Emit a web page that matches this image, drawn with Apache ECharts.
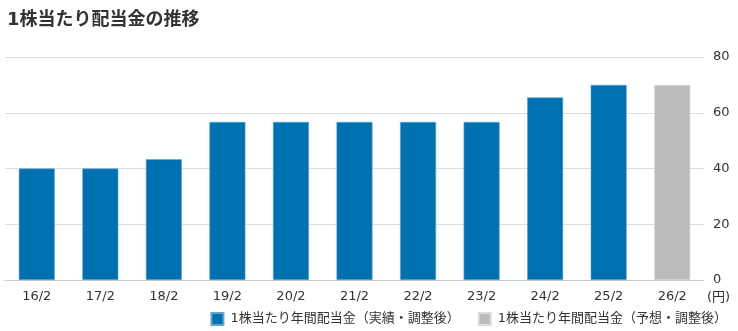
<!DOCTYPE html>
<html><head><meta charset="utf-8">
<script src="https://cdn.jsdelivr.net/npm/echarts@6/dist/echarts.min.js"></script>
<style>html,body{margin:0;padding:0;background:#fff}#c{width:738px;height:331px}</style>
</head><body><div id="c"></div>
<script>
const categories = ['16/2','17/2','18/2','19/2','20/2','21/2','22/2','23/2','24/2','25/2','26/2'];
const actualValues = [40, 40, 43.3, 56.7, 56.7, 56.7, 56.7, 56.7, 65.5, 70, '-'];
const forecastValues = ['-', '-', '-', '-', '-', '-', '-', '-', '-', '-', 70];
const yTicks = [0, 20, 40, 60, 80];
const seriesNames = ['1株当たり年間配当金（実績・調整後）', '1株当たり年間配当金（予想・調整後）'];

const font = '"DejaVu Sans", "Noto Sans CJK JP", sans-serif';
const chart = echarts.init(document.getElementById('c'));
chart.setOption({
  animation: false,
  textStyle: { fontFamily: font },
  title: { text: '1株当たり配当金の推移', left: 2, top: 6,
    textStyle: { fontSize: 18, fontWeight: 'bold', color: '#333', fontFamily: font } },
  grid: { left: 5, right: 34, top: 57, bottom: 51, containLabel: false },
  legend: { bottom: 0, right: 6, itemWidth: 12, itemHeight: 12, itemGap: 18,
    icon: 'rect', textStyle: { fontSize: 13, color: '#333', fontFamily: font, padding: [0, 0, 0, 2] } },
  xAxis: { type: 'category', data: categories,
    axisLine: { lineStyle: { color: '#ccc' } }, axisTick: { show: false },
    axisLabel: { fontSize: 13, color: '#333', margin: 10, fontFamily: font } },
  yAxis: { type: 'value', position: 'right', min: yTicks[0], max: yTicks[yTicks.length-1], interval: 20,
    name: '(円)', nameLocation: 'start', nameGap: 9,
    nameTextStyle: { fontSize: 13, color: '#333', align: 'left', verticalAlign: 'top', padding: [2, 0, 0, 3], fontFamily: font },
    axisLine: { show: false }, axisTick: { show: false },
    axisLabel: { fontSize: 13, color: '#333', margin: 9, align: 'left', fontFamily: font },
    splitLine: { lineStyle: { color: '#ddd', width: 1 } } },
  series: [
    { name: seriesNames[0], type: 'bar', data: actualValues, barWidth: 36, barGap: '-100%',
      itemStyle: { color: '#0071b0', borderColor: '#5fa6d0', borderWidth: 0.6 } },
    { name: seriesNames[1], type: 'bar', data: forecastValues, barWidth: 36,
      itemStyle: { color: '#bbbbbb', borderColor: '#dcdcdc', borderWidth: 0.6 } }
  ]
});
</script></body></html>
